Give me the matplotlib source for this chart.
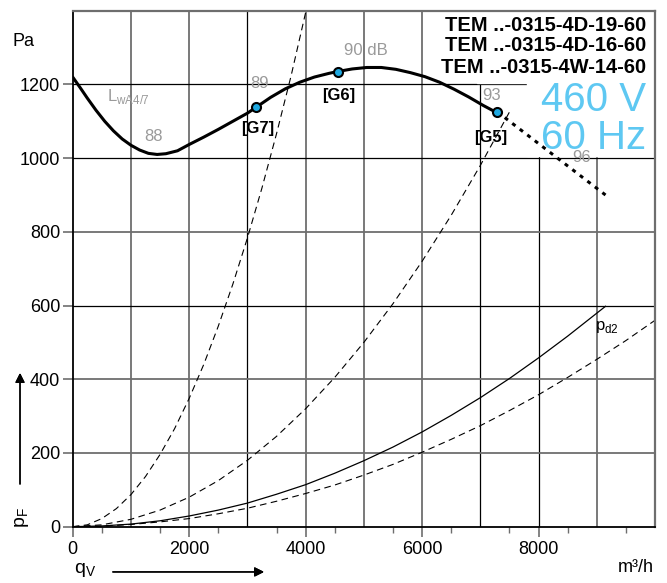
import matplotlib.pyplot as plt
from matplotlib.patches import Rectangle

plt.rcParams['font.family'] = ['Liberation Sans', 'DejaVu Sans']

# fan curve (thick)
fan_q = [0, 125, 250, 400, 550, 700, 850, 1000, 1150, 1300, 1450, 1600, 1800, 2000, 2250,
         2500, 2750, 3000, 3150, 3400, 3650, 3900, 4150, 4400, 4548, 4800, 5050, 5300,
         5550, 5800, 6050, 6300, 6550, 6800, 7050, 7288]
fan_p = [1220, 1192, 1163, 1130, 1100, 1074, 1052, 1035, 1022, 1013, 1010, 1012, 1020, 1037, 1057,
         1078, 1100, 1122, 1138, 1165, 1188, 1206, 1220, 1230, 1235, 1242, 1246, 1246,
         1241, 1232, 1221, 1206, 1187, 1166, 1143, 1123]
# dotted continuation after G5
ext_q = [7420, 9150]
ext_p = [1110, 900]

# system curves
sys1_q = [0, 250, 500, 750, 1000, 1250, 1500, 1750, 2000, 2250, 2500, 2750, 3000, 3250, 3500, 3750, 4000]
sys1_p = [0, 5, 22, 49, 87, 136, 196, 266, 348, 440, 544, 658, 783, 919, 1066, 1223, 1395]
sys2_q = [0, 500, 1000, 1500, 2000, 2500, 3000, 3500, 4000, 4500, 5000, 5500, 6000, 6500, 7000, 7500]
sys2_p = [0, 5, 20, 45, 80, 125, 180, 245, 320, 405, 500, 605, 720, 845, 980, 1125]
pd2_q = [0, 500, 1000, 1500, 2000, 2500, 3000, 3500, 4000, 4500, 5000, 5500, 6000, 6500,
         7000, 7500, 8000, 8500, 9150]
pd2_p = [0, 2, 7, 16, 29, 45, 64, 88, 114, 145, 179, 216, 257, 302, 350, 402, 458, 517, 598]
sys3_q = [0, 500, 1000, 1500, 2000, 2500, 3000, 3500, 4000, 4500, 5000, 5500, 6000, 6500,
          7000, 7500, 8000, 8500, 9000, 9500, 10000]
sys3_p = [0, 1, 6, 13, 22, 35, 50, 69, 90, 113, 140, 169, 202, 237, 274, 315, 358, 405, 454, 505, 560]

# operating points
op_names = ['[G7]', '[G6]', '[G5]']
op_q = [3150, 4548, 7288]
op_p = [1140, 1235, 1125]
op_lab_q = [3176, 4560, 7175]
op_lab_p = [1080, 1170, 1057]

# sound levels
snd_txt = ['88', '89', '90 dB', '93', '96']
snd_q = [1380, 3210, 5033, 7192, 8743]
snd_p = [1058, 1203, 1292, 1170, 1003]

models = ['TEM ..-0315-4D-19-60', 'TEM ..-0315-4D-16-60', 'TEM ..-0315-4W-14-60']

xticks = [0, 2000, 4000, 6000, 8000]
yticks = [0, 200, 400, 600, 800, 1000, 1200]

fig = plt.figure(figsize=(6.67, 5.83), dpi=100)
ax = fig.add_axes([0.109, 0.0966, 0.873, 0.885])
ax.set_xlim(0, 10000)
ax.set_ylim(0, 1400)

# grid, some lines black, some grey
gray = '#6e6e6e'
for q in range(1000, 10000, 1000):
    if q in (3000, 7000, 8000):
        ax.axvline(q, color='black', lw=0.9, zorder=1)
    else:
        ax.axvline(q, color=gray, lw=1.3, zorder=1)
for p in yticks[1:]:
    if p in (600, 1000, 1200):
        ax.axhline(p, color='black', lw=0.9, zorder=1)
    else:
        ax.axhline(p, color=gray, lw=1.3, zorder=1)

# white area behind the legend text
ax.add_patch(Rectangle((6950, 1205), 3100, 200, color='white', zorder=1.5))
ax.add_patch(Rectangle((7800, 1005), 2250, 200, color='white', zorder=1.5))

dash = (0, (6, 4))
ax.plot(sys1_q, sys1_p, color='black', lw=0.8, ls=dash, zorder=3)
ax.plot(sys2_q, sys2_p, color='black', lw=0.8, ls=dash, zorder=3)
ax.plot(sys3_q, sys3_p, color='black', lw=0.8, ls=dash, zorder=3)
ax.plot(pd2_q, pd2_p, color='black', lw=0.9, zorder=3)
ax.plot(fan_q, fan_p, color='black', lw=2.2, zorder=4, solid_capstyle='round')
ax.plot(ext_q, ext_p, color='black', lw=2.2, ls=(0, (1.3, 1.8)), zorder=4)
ax.plot(op_q, op_p, 'o', ms=6.5, mfc='#1fa9e1', mec='black', mew=1.5, zorder=5)

for name, q, p in zip(op_names, op_lab_q, op_lab_p):
    ax.text(q, p, name, ha='center', va='center', fontsize=12, fontweight='bold',
            fontstretch='condensed', zorder=6)
for t, q, p in zip(snd_txt, snd_q, snd_p):
    ax.text(q, p, t, ha='center', va='center', fontsize=12, color='#9a9a9a', zorder=6)
ax.text(950, 1166, r'L$_{\mathregular{wA4/7}}$', ha='center', va='center', fontsize=12,
        color='#9a9a9a', zorder=6)
ax.text(8970, 543, r'p$_{\mathregular{d2}}$', ha='left', va='center', fontsize=12, zorder=6)

model_base = [0.960, 0.921, 0.879]
for m, yb in zip(models, model_base):
    ax.text(0.985, yb, m, transform=ax.transAxes, ha='right', va='baseline',
            fontsize=14.5, fontweight='bold', zorder=6)
ax.text(0.985, 0.805, '460 V', transform=ax.transAxes, ha='right', va='baseline',
        fontsize=29, color='#5ec8f2', zorder=6)
ax.text(0.985, 0.732, '60 Hz', transform=ax.transAxes, ha='right', va='baseline',
        fontsize=29, color='#5ec8f2', zorder=6)

ax.set_xticks(xticks)
ax.set_yticks(yticks)
ax.set_xticks(range(500, 10001, 1000), minor=True)
ax.tick_params(axis='both', which='major', labelsize=13, length=7, width=1.2, color=gray)
ax.tick_params(axis='x', which='minor', length=4, width=1, color=gray)
ax.tick_params(axis='y', pad=2)
for s in ('left', 'bottom'):
    ax.spines[s].set_color('black')
    ax.spines[s].set_linewidth(1.3)
for s in ('top', 'right'):
    ax.spines[s].set_color(gray)
    ax.spines[s].set_linewidth(1.6)
for sp in ax.spines.values():
    sp.set_zorder(7)

# axis captions and arrows
fig.text(0.018, 0.928, 'Pa', fontsize=13, ha='left', va='center')
fig.text(0.98, 0.026, 'm³/h', fontsize=13, ha='right', va='center')
fig.text(0.127, 0.022, r'q$_{\mathregular{V}}$', fontsize=14, ha='center', va='center')
fig.text(0.033, 0.113, r'p$_{\mathregular{F}}$', fontsize=14, ha='center', va='center', rotation=90)
fig.add_artist(plt.annotate('', xy=(0.40, 0.019), xytext=(0.165, 0.019), xycoords='figure fraction',
                            arrowprops=dict(arrowstyle='-|>', color='black', lw=1, mutation_scale=14)))
fig.add_artist(plt.annotate('', xy=(0.030, 0.365), xytext=(0.030, 0.165), xycoords='figure fraction',
                            arrowprops=dict(arrowstyle='-|>', color='black', lw=1, mutation_scale=14)))

fig.savefig('out.png', dpi=100)
